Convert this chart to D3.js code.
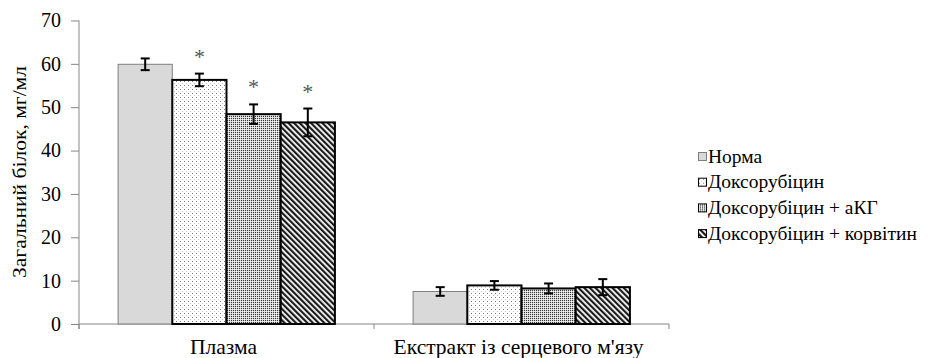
<!DOCTYPE html>
<html>
<head>
<meta charset="utf-8">
<script src="https://cdn.jsdelivr.net/npm/d3@7/dist/d3.min.js"></script>
<style>
  html, body { margin: 0; padding: 0; background: #fff; }
  svg { display: block; }
</style>
</head>
<body>
<svg id="chart" width="938" height="358"></svg>
<script>
// Categories along the x axis
const categories = ["Плазма", "Екстракт із серцевого м'язу"];
// Experimental groups (legend order)
const groups = ["Норма", "Доксорубіцин", "Доксорубіцин + аКГ", "Доксорубіцин + корвітин"];
// Mean total protein, mg/ml, per category and group
const meanPlasma = [59.9, 56.3, 48.4, 46.5];
const meanHeart  = [7.5, 8.9, 8.2, 8.5];
// Error bar half-widths
const errPlasma = [1.35, 1.45, 2.25, 3.2];
const errHeart  = [1.0, 1.0, 1.15, 1.85];
// Significance marks
const sigPlasma = [false, true, true, true];
const sigHeart  = [false, false, false, false];
const yTicks = [0, 10, 20, 30, 40, 50, 60, 70];
const yTitle = "Загальний білок, мг/мл";

const rows = [
  { cat: categories[0], mean: meanPlasma, err: errPlasma, sig: sigPlasma },
  { cat: categories[1], mean: meanHeart,  err: errHeart,  sig: sigHeart }
];

const svg = d3.select("#chart");
const axisColor = "#868686";
const fontFam = "'Liberation Serif', 'DejaVu Serif', serif";
svg.attr("font-family", fontFam);

const plot = { left: 79, right: 669, top: 20.5, bottom: 324 };

const y = d3.scaleLinear().domain([0, 70]).range([plot.bottom, plot.top]);
const x0 = d3.scaleBand().domain(categories).range([plot.left, plot.right]).padding(0);
const x1 = d3.scaleBand().domain(groups)
  .range([x0.bandwidth() * 0.1325, x0.bandwidth() * 0.8675]).padding(0);

// Fill patterns for each group
const defs = svg.append("defs");

// Доксорубіцин: sparse staggered dots on white
const pDots = defs.append("pattern").attr("id", "pDots")
  .attr("patternUnits", "userSpaceOnUse").attr("width", 4).attr("height", 4);
pDots.append("rect").attr("width", 4).attr("height", 4).attr("fill", "#fff");
pDots.append("rect").attr("x", 1).attr("y", 1).attr("width", 1).attr("height", 1).attr("fill", "#7a7a7a");
pDots.append("rect").attr("x", 3).attr("y", 3).attr("width", 1).attr("height", 1).attr("fill", "#c4c4c4");

// Доксорубіцин + аКГ: fine dense dot grid over grey
const pFine = defs.append("pattern").attr("id", "pFine")
  .attr("patternUnits", "userSpaceOnUse").attr("width", 2).attr("height", 2);
pFine.append("rect").attr("width", 2).attr("height", 2).attr("fill", "#d2d2d2");
pFine.append("rect").attr("x", 0).attr("y", 0).attr("width", 1).attr("height", 1).attr("fill", "#3a3a3a");
pFine.append("rect").attr("x", 1).attr("y", 1).attr("width", 1).attr("height", 1).attr("fill", "#f4f4f4");

// Доксорубіцин + корвітин: dark diagonal stripes
const pDiag = defs.append("pattern").attr("id", "pDiag")
  .attr("patternUnits", "userSpaceOnUse").attr("width", 4).attr("height", 4)
  .attr("patternTransform", "rotate(-45)");
pDiag.append("rect").attr("width", 4).attr("height", 4).attr("fill", "#fff");
pDiag.append("rect").attr("x", 0).attr("y", 0).attr("width", 2.2).attr("height", 4).attr("fill", "#1a1a1a");

const fills = ["#d9d9d9", "url(#pDots)", "url(#pFine)", "url(#pDiag)"];
const strokes = ["#7f7f7f", "#000", "#000", "#000"];
const strokeW = [1, 2, 2, 2];

// Y axis
const yAxis = d3.axisLeft(y).tickValues(yTicks).tickSize(8).tickPadding(10).tickFormat(d3.format("d"));
const gy = svg.append("g").attr("transform", `translate(${plot.left},0)`).call(yAxis)
  .attr("font-family", fontFam);
gy.select(".domain").attr("stroke", axisColor).attr("d", `M0,${plot.top}V${plot.bottom + 5}`);
gy.selectAll(".tick line").attr("stroke", axisColor);
gy.selectAll(".tick text").attr("fill", "#000").attr("font-size", 20);

// X axis with ticks at category boundaries
const gx = svg.append("g");
gx.append("line").attr("x1", plot.left).attr("x2", plot.right)
  .attr("y1", plot.bottom).attr("y2", plot.bottom).attr("stroke", axisColor);
const bounds = [plot.left, ...categories.map(c => x0(c) + x0.bandwidth())];
gx.selectAll("line.tk").data(bounds).join("line").attr("class", "tk")
  .attr("x1", d => d).attr("x2", d => d)
  .attr("y1", plot.bottom).attr("y2", plot.bottom + 5).attr("stroke", axisColor);
gx.selectAll("text.cat").data(categories).join("text").attr("class", "cat")
  .attr("x", d => x0(d) + x0.bandwidth() / 2 - 3).attr("y", 354)
  .attr("text-anchor", "middle").attr("font-size", 21.5).attr("fill", "#000")
  .text(d => d);

// Y title
svg.append("text")
  .attr("transform", "translate(26,172) rotate(-90)")
  .attr("text-anchor", "middle").attr("font-size", 18).attr("fill", "#000")
  .attr("textLength", 212).attr("lengthAdjust", "spacingAndGlyphs")
  .text(yTitle);

// Bars
const gBars = svg.append("g");
rows.forEach(r => {
  const g = gBars.append("g").attr("transform", `translate(${x0(r.cat)},0)`);
  groups.forEach((gr, i) => {
    const bx = x1(gr), bw = x1.bandwidth();
    g.append("rect")
      .attr("x", bx).attr("width", bw)
      .attr("y", y(r.mean[i])).attr("height", y(0) - y(r.mean[i]))
      .attr("fill", fills[i]).attr("stroke", strokes[i]).attr("stroke-width", strokeW[i]);
  });
  // error bars
  groups.forEach((gr, i) => {
    const cx = x1(gr) + x1.bandwidth() / 2;
    const hi = y(r.mean[i] + r.err[i]), lo = y(r.mean[i] - r.err[i]);
    const eb = g.append("g").attr("stroke", "#000").attr("stroke-width", 2);
    eb.append("line").attr("x1", cx).attr("x2", cx).attr("y1", hi).attr("y2", lo);
    eb.append("line").attr("x1", cx - 4.5).attr("x2", cx + 4.5).attr("y1", hi).attr("y2", hi);
    eb.append("line").attr("x1", cx - 4.5).attr("x2", cx + 4.5).attr("y1", lo).attr("y2", lo);
    if (r.sig[i]) {
      g.append("text").attr("x", cx).attr("y", hi - 10)
        .attr("text-anchor", "middle").attr("font-size", 22).attr("fill", "#555")
        .text("*");
    }
  });
});

// Legend
const legend = svg.append("g").attr("transform", "translate(698,152)");
groups.forEach((gr, i) => {
  const row = legend.append("g").attr("transform", `translate(0,${i * 25.7})`);
  row.append("rect").attr("x", 0.5).attr("y", 0.5).attr("width", 8).attr("height", 8)
    .attr("fill", fills[i]).attr("stroke", i === 0 ? "#7f7f7f" : "#000").attr("stroke-width", 1);
  row.append("text").attr("x", 10).attr("y", 10.5).attr("font-size", 19.5).attr("fill", "#000")
    .text(gr);
});
</script>
</body>
</html>
